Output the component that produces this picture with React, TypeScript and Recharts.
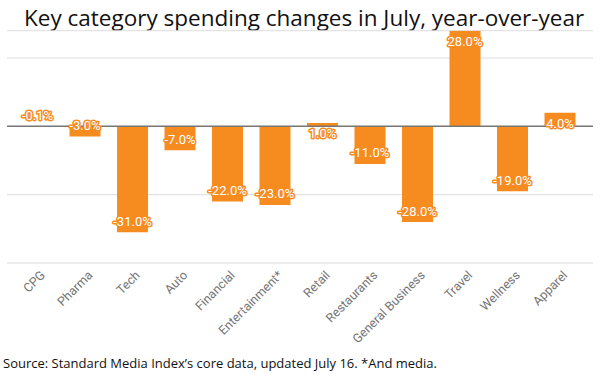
import React from "react";
import { BarChart, Bar, XAxis, YAxis, CartesianGrid, ReferenceLine, LabelList } from "recharts";

const categories = ["CPG", "Pharma", "Tech", "Auto", "Financial", "Entertainment*", "Retail", "Restaurants", "General Business", "Travel", "Wellness", "Apparel"];
const changes = [-0.1, -3, -31, -7, -22, -23, 1, -11, -28, 28, -19, 4];
const yTicks = [-40, -20, 0, 20];

const data = categories.map((c, i) => ({ name: c, value: changes[i] }));

const ORANGE = "#F68B1F";

const BarLabel = (props: any) => {
  const { x, y, width, height, value } = props;
  const top = Math.min(y, y + height);
  const bottom = Math.max(y, y + height);
  const cy = value >= 0 ? top + 11 : bottom - 11;
  return (
    <text
      x={x + width / 2}
      y={cy}
      dy="0.35em"
      textAnchor="middle"
      fontFamily="Roboto"
      fontSize={13}
      fill="#ffffff"
      stroke={ORANGE}
      strokeWidth={3}
      paintOrder="stroke"
      strokeLinejoin="round"
    >
      {value.toFixed(1) + "%"}
    </text>
  );
};

const XTick = (props: any) => {
  const { x, payload } = props;
  const tx = x + 8;
  const ty = 276;
  return (
    <text
      x={tx}
      y={ty}
      textAnchor="end"
      transform={`rotate(-45 ${tx} ${ty})`}
      fontFamily="Roboto"
      fontSize={12.5}
      fill="#757575"
    >
      {payload.value}
    </text>
  );
};

export default function App() {
  return (
    <div style={{ position: "fixed", left: 0, top: 0, width: 600, height: 375, background: "#fff" }}>
      <div
        style={{
          position: "absolute",
          left: 24,
          top: 1,
          fontFamily: "'Open Sans'",
          fontSize: 22.5,
          lineHeight: "34px",
          color: "#111",
          whiteSpace: "nowrap",
          zIndex: 0,
        }}
      >
        Key category spending changes in July, year-over-year
      </div>
      <div style={{ position: "absolute", left: 0, top: 0, zIndex: 1 }}>
        <BarChart
          width={600}
          height={375}
          data={data}
          margin={{ top: 30.7, right: 7, bottom: 0, left: 7 }}
          barSize={31}
        >
          <CartesianGrid vertical={false} stroke="#dddddd" />
          <YAxis hide domain={[-40, 28]} ticks={yTicks} type="number" allowDataOverflow />
          <XAxis
            dataKey="name"
            axisLine={false}
            tickLine={false}
            interval={0}
            padding={{ left: 7, right: 9 }}
            tick={<XTick />}
            height={112}
          />
          <ReferenceLine y={0} stroke="#777777" strokeWidth={1.5} />
          <Bar dataKey="value" fill={ORANGE} isAnimationActive={false}>
            <LabelList dataKey="value" content={<BarLabel />} />
          </Bar>
        </BarChart>
      </div>
      <div
        style={{
          position: "absolute",
          left: 3,
          top: 355,
          fontFamily: "'Open Sans'",
          fontSize: 13,
          lineHeight: "16px",
          color: "#111",
          whiteSpace: "nowrap",
        }}
      >
        Source: Standard Media Index’s core data, updated July 16. *And media.
      </div>
    </div>
  );
}
